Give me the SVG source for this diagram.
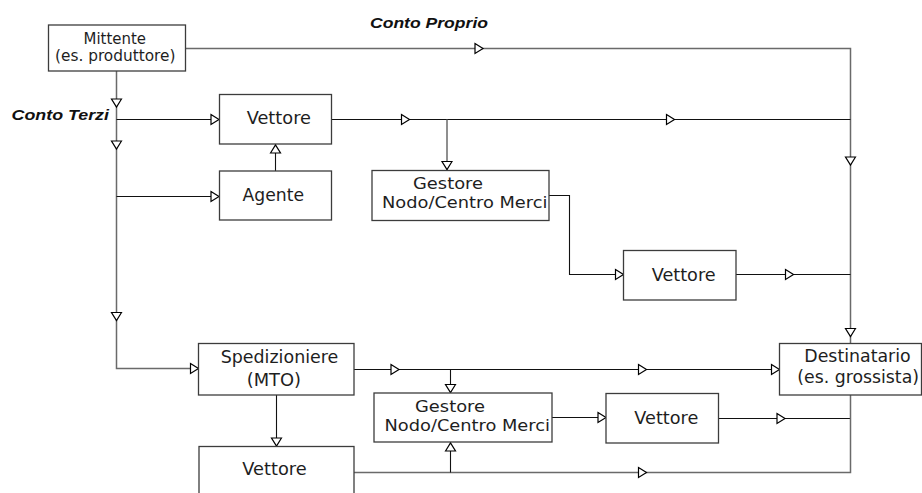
<svg xmlns="http://www.w3.org/2000/svg" xmlns:xlink="http://www.w3.org/1999/xlink" width="922" height="493" viewBox="0 0 922 493">
  <style>
    .box { fill: #ffffff; stroke: #3c3c3c; stroke-width: 1.3; }
    .t { font-family: "DejaVu Sans", Verdana, sans-serif; font-size: 17.4px; fill: #1e1e1e; }
    .tg { font-family: "DejaVu Sans", Verdana, sans-serif; font-size: 15.2px; fill: #1e1e1e; }
    .ts { font-family: "DejaVu Sans", Verdana, sans-serif; font-size: 15.3px; fill: #1e1e1e; }
    .tl { font-family: "Liberation Sans", Arial, sans-serif; font-size: 15px; font-weight: bold; font-style: italic; fill: #111; }
    .ln { fill: none; stroke: #111; stroke-width: 1.1; }
    .lg { fill: none; stroke: #6a6a6a; stroke-width: 1.5; }
  </style>
  <defs>
    <!-- open triangular arrowhead, tip at origin, pointing along +x -->
    <path id="ah" d="M-8,-5 L0,0 L-8,5 Z" fill="#ffffff" stroke="#000" stroke-width="1.2" stroke-linejoin="miter"/>
  </defs>

  <rect width="922" height="493" fill="#ffffff"/>

  <!-- connectors -->
  <g id="connectors">
    <!-- Conto Proprio: sender straight to receiver -->
    <polyline class="lg" points="185,48.5 850.5,48.5 850.5,343"/>
    <!-- Conto Terzi trunk -->
    <polyline class="lg" points="116.5,71 116.5,368.5 198.5,368.5"/>
    <line class="ln" x1="116.5" y1="119.5" x2="219" y2="119.5"/>
    <line class="ln" x1="116.5" y1="196.5" x2="219" y2="196.5"/>
    <line class="ln" x1="275.5" y1="171" x2="275.5" y2="144"/>
    <!-- upper carrier -->
    <line class="ln" x1="331.5" y1="119.5" x2="850.5" y2="119.5"/>
    <line class="lg" x1="447" y1="119.5" x2="447" y2="170.5"/>
    <polyline class="ln" points="549,195.5 569.5,195.5 569.5,274.5 623.5,274.5"/>
    <line class="ln" x1="736" y1="274.5" x2="850.5" y2="274.5"/>
    <!-- forwarder branch -->
    <line class="ln" x1="354" y1="369.5" x2="779.5" y2="369.5"/>
    <line class="ln" x1="450.5" y1="369.5" x2="450.5" y2="393"/>
    <line class="ln" x1="276.5" y1="395" x2="276.5" y2="446.5"/>
    <line class="ln" x1="552" y1="417.5" x2="606" y2="417.5"/>
    <line class="ln" x1="718.5" y1="418.5" x2="850.5" y2="418.5"/>
    <polyline class="lg" points="354,472.5 850.5,472.5 850.5,395"/>
    <line class="ln" x1="450.5" y1="472.5" x2="450.5" y2="442"/>

    <!-- arrowheads pointing right -->
    <use xlink:href="#ah" transform="translate(483,48.5)"/>
    <use xlink:href="#ah" transform="translate(219,119.5)"/>
    <use xlink:href="#ah" transform="translate(409.5,119.5)"/>
    <use xlink:href="#ah" transform="translate(674.5,119.5)"/>
    <use xlink:href="#ah" transform="translate(219,196.5)"/>
    <use xlink:href="#ah" transform="translate(623.5,274.5)"/>
    <use xlink:href="#ah" transform="translate(793.5,274.5)"/>
    <use xlink:href="#ah" transform="translate(198.5,368.5)"/>
    <use xlink:href="#ah" transform="translate(399,369.5)"/>
    <use xlink:href="#ah" transform="translate(646.5,369.5)"/>
    <use xlink:href="#ah" transform="translate(779.5,369.5)"/>
    <use xlink:href="#ah" transform="translate(606,417.5)"/>
    <use xlink:href="#ah" transform="translate(785,418.5)"/>
    <use xlink:href="#ah" transform="translate(646.5,472.5)"/>
    <!-- arrowheads pointing down -->
    <use xlink:href="#ah" transform="translate(116.5,107) rotate(90)"/>
    <use xlink:href="#ah" transform="translate(116.5,149) rotate(90)"/>
    <use xlink:href="#ah" transform="translate(116.5,320.5) rotate(90)"/>
    <use xlink:href="#ah" transform="translate(447,169.5) rotate(90)"/>
    <use xlink:href="#ah" transform="translate(850.5,165) rotate(90)"/>
    <use xlink:href="#ah" transform="translate(850.5,336.5) rotate(90)"/>
    <use xlink:href="#ah" transform="translate(450.5,392.5) rotate(90)"/>
    <use xlink:href="#ah" transform="translate(276.5,446) rotate(90)"/>
    <!-- arrowheads pointing up -->
    <use xlink:href="#ah" transform="translate(275.5,145) rotate(-90)"/>
    <use xlink:href="#ah" transform="translate(450.5,443) rotate(-90)"/>
  </g>

  <!-- labels on connectors -->
  <text class="tl" x="370" y="28" textLength="118" lengthAdjust="spacingAndGlyphs">Conto Proprio</text>
  <text class="tl" x="11.5" y="119.5" textLength="97.5" lengthAdjust="spacingAndGlyphs">Conto Terzi</text>

  <!-- nodes -->
  <g id="mittente">
    <rect class="box" x="48.5" y="25" width="137" height="46"/>
    <text class="ts" x="83.5" y="44.3" textLength="62.5" lengthAdjust="spacingAndGlyphs">Mittente</text>
    <text class="ts" x="55" y="61" textLength="120.5" lengthAdjust="spacingAndGlyphs">(es. produttore)</text>
  </g>
  <g id="vettore-1">
    <rect class="box" x="219.5" y="94.5" width="112" height="49.5"/>
    <text class="t" x="246.7" y="124.3" textLength="64.3" lengthAdjust="spacingAndGlyphs">Vettore</text>
  </g>
  <g id="agente">
    <rect class="box" x="219.5" y="171" width="112" height="49"/>
    <text class="t" x="242.5" y="201.3" textLength="61.5" lengthAdjust="spacingAndGlyphs">Agente</text>
  </g>
  <g id="gestore-1">
    <rect class="box" x="372" y="170.5" width="177" height="50"/>
    <text class="tg" x="413" y="189.3" textLength="70" lengthAdjust="spacingAndGlyphs">Gestore</text>
    <text class="tg" x="382" y="207.5" textLength="165.5" lengthAdjust="spacingAndGlyphs">Nodo/Centro Merci</text>
  </g>
  <g id="vettore-2">
    <rect class="box" x="623.5" y="250.5" width="112.5" height="49.5"/>
    <text class="t" x="651.7" y="280.7" textLength="64" lengthAdjust="spacingAndGlyphs">Vettore</text>
  </g>
  <g id="spedizioniere">
    <rect class="box" x="198.5" y="343.5" width="155.5" height="51.5"/>
    <text class="t" x="220.7" y="363.3" textLength="117.6" lengthAdjust="spacingAndGlyphs">Spedizioniere</text>
    <text class="t" x="246.7" y="385.5" textLength="54.3" lengthAdjust="spacingAndGlyphs">(MTO)</text>
  </g>
  <g id="destinatario">
    <rect class="box" x="779.5" y="343.5" width="142" height="51.5"/>
    <text class="t" x="804.3" y="362.3" textLength="106.4" lengthAdjust="spacingAndGlyphs">Destinatario</text>
    <text class="t" x="797.3" y="382.5" textLength="121.7" lengthAdjust="spacingAndGlyphs">(es. grossista)</text>
  </g>
  <g id="gestore-2">
    <rect class="box" x="374" y="393" width="178" height="49"/>
    <text class="tg" x="415" y="411.7" textLength="70" lengthAdjust="spacingAndGlyphs">Gestore</text>
    <text class="tg" x="384.5" y="431" textLength="165.5" lengthAdjust="spacingAndGlyphs">Nodo/Centro Merci</text>
  </g>
  <g id="vettore-3">
    <rect class="box" x="606" y="393.5" width="112.5" height="49.5"/>
    <text class="t" x="634.3" y="424.3" textLength="64" lengthAdjust="spacingAndGlyphs">Vettore</text>
  </g>
  <g id="vettore-4">
    <rect class="box" x="199" y="446.5" width="155" height="60"/>
    <text class="t" x="242.3" y="475" textLength="64.4" lengthAdjust="spacingAndGlyphs">Vettore</text>
  </g>
</svg>
